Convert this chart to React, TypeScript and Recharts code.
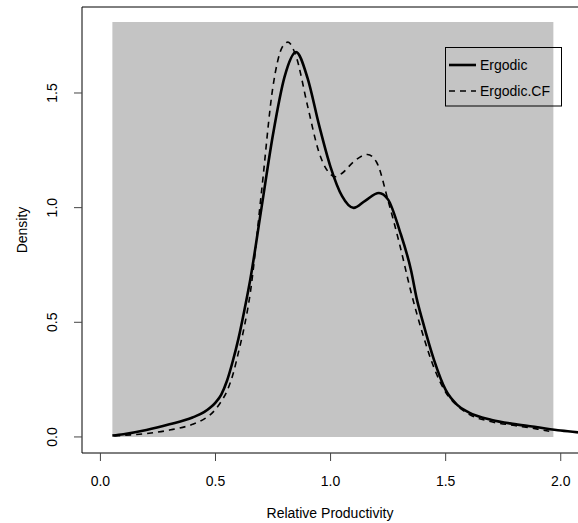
import React from "react";
import {
  LineChart,
  Line,
  XAxis,
  YAxis,
  ReferenceArea,
  ReferenceLine,
  Legend,
} from "recharts";

const ergodicX = [0.052, 0.1, 0.2, 0.3, 0.4, 0.45, 0.475, 0.5, 0.525, 0.55, 0.575, 0.6, 0.625, 0.65, 0.7, 0.75, 0.8, 0.85, 0.9, 0.95, 1.0, 1.05, 1.1, 1.15, 1.21, 1.25, 1.3, 1.35, 1.375, 1.4, 1.45, 1.5, 1.55, 1.6, 1.7, 1.8, 1.9, 2.0, 2.075];
const ergodicY = [0.006, 0.012, 0.03, 0.055, 0.085, 0.108, 0.126, 0.15, 0.185, 0.245, 0.33, 0.43, 0.55, 0.68, 1.0, 1.32, 1.57, 1.678, 1.565, 1.36, 1.177, 1.05, 0.999, 1.03, 1.064, 1.035, 0.9, 0.725, 0.6, 0.505, 0.334, 0.205, 0.14, 0.107, 0.074, 0.056, 0.042, 0.028, 0.02];

const cfX = [0.06, 0.1, 0.2, 0.3, 0.4, 0.45, 0.475, 0.5, 0.525, 0.55, 0.575, 0.6, 0.625, 0.65, 0.7, 0.75, 0.79, 0.815, 0.85, 0.9, 0.95, 1.0, 1.02, 1.05, 1.1, 1.16, 1.2, 1.25, 1.3, 1.35, 1.4, 1.45, 1.5, 1.55, 1.6, 1.7, 1.8, 1.9, 1.95];
const cfY = [0.004, 0.007, 0.015, 0.03, 0.055, 0.078, 0.095, 0.12, 0.155, 0.2, 0.27, 0.37, 0.48, 0.62, 1.07, 1.53, 1.7, 1.722, 1.66, 1.444, 1.24, 1.145, 1.135, 1.15, 1.2, 1.232, 1.198, 1.03, 0.84, 0.63, 0.45, 0.3, 0.195, 0.137, 0.1, 0.066, 0.05, 0.034, 0.025];

const xTicks = [0, 0.5, 1, 1.5, 2];
const yTicks = [0, 0.5, 1, 1.5];
const xDomain = [-0.08, 2.075];
const yDomain = [-0.07, 1.875];
const shadeX = [0.052, 1.968];
const shadeY = [0, 1.81];
const seriesNames = ["Ergodic", "Ergodic.CF"];

const ergodicData = ergodicX.map((x, i) => ({ x, y: ergodicY[i] }));
const cfData = cfX.map((x, i) => ({ x, y: cfY[i] }));

const FONT = "'Liberation Sans', Arial, Helvetica, sans-serif";

const YTick = (props: any) => {
  const { x, y, payload } = props;
  return (
    <text
      x={x}
      y={y}
      dy="0.35em"
      textAnchor="middle"
      transform={`rotate(-90, ${x}, ${y})`}
      fontSize={14}
      fontFamily={FONT}
      fill="#000"
    >
      {payload.value.toFixed(1)}
    </text>
  );
};

const XTick = (props: any) => {
  const { x, y, payload } = props;
  return (
    <text x={x} y={y} dy="0.71em" textAnchor="middle" fontSize={14} fontFamily={FONT} fill="#000">
      {payload.value.toFixed(1)}
    </text>
  );
};

const LegendBox = () => (
  <svg width={118} height={60} style={{ display: "block" }}>
    <rect x={0.5} y={0.5} width={116} height={58.5} fill="none" stroke="#000" strokeWidth={1} />
    <line x1={4} x2={31} y1={18} y2={18} stroke="#000" strokeWidth={2.6} />
    <line x1={4} x2={31} y1={44} y2={44} stroke="#000" strokeWidth={1.6} strokeDasharray="6 5" />
    <text x={35} y={18} dy="0.35em" fontSize={14} fontFamily={FONT} fill="#000">{seriesNames[0]}</text>
    <text x={35} y={44} dy="0.35em" fontSize={14} fontFamily={FONT} fill="#000">{seriesNames[1]}</text>
  </svg>
);

export default function App() {
  return (
    <div style={{ position: "absolute", left: 0, top: 0, width: 578, height: 523, overflow: "hidden", background: "#fff" }}>
      <LineChart width={578} height={523} margin={{ top: 7, right: 0, bottom: 0, left: 0 }}>
        <XAxis
          type="number"
          dataKey="x"
          domain={xDomain}
          allowDataOverflow
          ticks={xTicks}
          tick={<XTick />}
          tickSize={8}
          tickMargin={15}
          height={70}
          axisLine={{ stroke: "#000", strokeWidth: 1 }}
          tickLine={{ stroke: "#444", strokeWidth: 1 }}
          label={{
            content: (p: any) => {
              const vb = p.viewBox;
              return (
                <text x={vb.x + vb.width / 2} y={vb.y + 60} dy="0.35em" textAnchor="middle" fontSize={14} fontFamily={FONT} fill="#000">
                  Relative Productivity
                </text>
              );
            },
          }}
        />
        <YAxis
          type="number"
          dataKey="y"
          domain={yDomain}
          allowDataOverflow
          ticks={yTicks}
          tick={<YTick />}
          tickSize={8}
          tickMargin={22}
          width={82}
          axisLine={{ stroke: "#000", strokeWidth: 1 }}
          tickLine={{ stroke: "#444", strokeWidth: 1 }}
          label={{
            content: (p: any) => {
              const vb = p.viewBox;
              const cx = vb.x + 22;
              const cy = vb.y + vb.height / 2;
              return (
                <text x={cx} y={cy} dy="0.35em" textAnchor="middle" transform={`rotate(-90, ${cx}, ${cy})`} fontSize={14} fontFamily={FONT} fill="#000">
                  Density
                </text>
              );
            },
          }}
        />
        <ReferenceArea x1={shadeX[0]} x2={shadeX[1]} y1={shadeY[0]} y2={shadeY[1]} fill="#C4C4C4" fillOpacity={1} stroke="none" />
        <ReferenceLine y={yDomain[1]} stroke="#000" strokeWidth={1} />
        <Line
          data={cfData}
          dataKey="y"
          name={seriesNames[1]}
          type="monotone"
          stroke="#000"
          strokeWidth={1.6}
          strokeDasharray="6 5"
          dot={false}
          activeDot={false}
          isAnimationActive={false}
        />
        <Line
          data={ergodicData}
          dataKey="y"
          name={seriesNames[0]}
          type="monotone"
          stroke="#000"
          strokeWidth={2.6}
          dot={false}
          activeDot={false}
          isAnimationActive={false}
        />
        <Legend
          layout="vertical"
          align="center"
          verticalAlign="middle"
          content={() => <LegendBox />}
          wrapperStyle={{ position: "absolute", left: 445, top: 47, width: 118, height: 60 }}
        />
      </LineChart>
    </div>
  );
}
